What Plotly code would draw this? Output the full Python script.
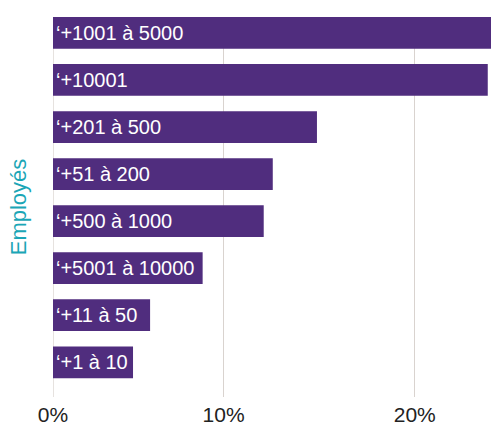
import plotly.graph_objects as go

categories = ["‘+1 à 10", "‘+11 à 50", "‘+5001 à 10000", "‘+500 à 1000",
              "‘+51 à 200", "‘+201 à 500", "‘+10001", "‘+1001 à 5000"]
values = [0.0469, 0.0569, 0.0877, 0.1235, 0.1288, 0.1547, 0.2548, 0.2580]
tick_vals = [0, 0.1, 0.212]
tick_text = ["0%", "10%", "20%"]

FONT = "'Liberation Sans', Arial, sans-serif"

fig = go.Figure(go.Bar(
    y=categories, x=values, orientation="h",
    marker=dict(color="#502d7e", line=dict(width=0)),
    text=categories, textposition="inside", insidetextanchor="start",
    constraintext="none", cliponaxis=True,
    textfont=dict(color="white", size=20, family=FONT),
    hoverinfo="skip",
))

fig.update_layout(
    width=491, height=426,
    margin=dict(l=53, r=0, t=17, b=26),
    paper_bgcolor="white", plot_bgcolor="white",
    bargap=0.325, showlegend=False,
    font=dict(family=FONT),
    xaxis=dict(range=[0, 0.2567], tickvals=tick_vals, ticktext=tick_text,
               showgrid=True, gridcolor="#d9d3cf", gridwidth=1,
               zeroline=True, zerolinecolor="#e6e2df", zerolinewidth=1,
               showline=False, ticks="", tickfont=dict(size=21, color="#222222"),
               ticklabelstandoff=3),
    yaxis=dict(range=[-0.738, 7.338], showticklabels=False, ticks="",
               showgrid=False, zeroline=False, showline=False,
               title=dict(text="Employés", font=dict(size=22, color="#1ba6b6"),
                          standoff=19)),
)

fig.write_html("out.html", config={"displayModeBar": False},
               post_script="document.body.style.margin='0';document.body.style.overflow='hidden';")
